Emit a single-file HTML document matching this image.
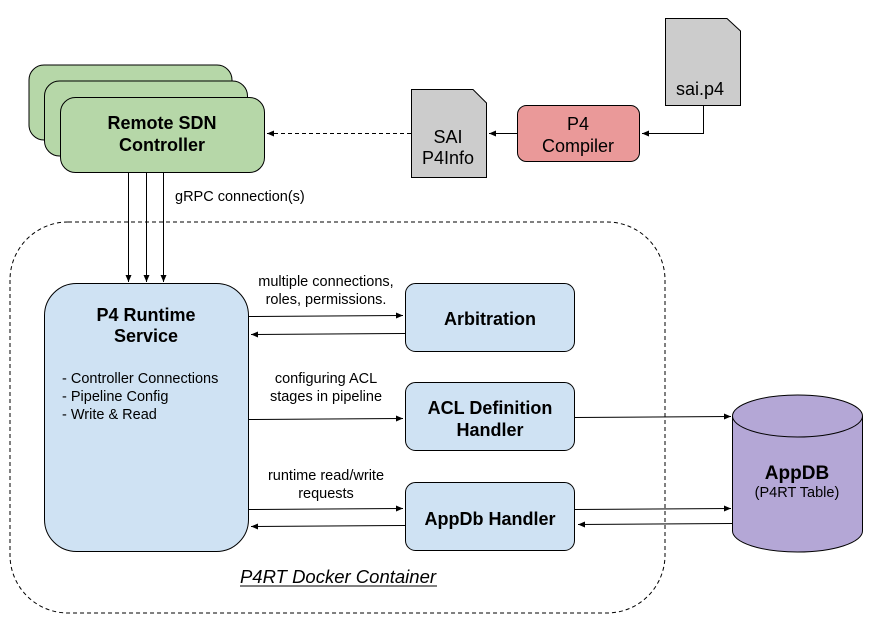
<!DOCTYPE html>
<html><head><meta charset="utf-8"><style>
html,body{margin:0;padding:0;background:#fff}
svg{display:block}
text{font-family:"Liberation Sans",Arial,sans-serif;fill:#000}
</style></head><body>
<svg width="876" height="626" viewBox="0 0 876 626" xmlns="http://www.w3.org/2000/svg">
<defs>
<marker id="a" markerWidth="8" markerHeight="8" refX="7" refY="4" orient="auto" markerUnits="userSpaceOnUse">
<path d="M0,1 L7,4 L0,7 z" fill="#000"/></marker>
</defs>
<rect x="10" y="222" width="655" height="391" rx="58" ry="58" fill="none" stroke="#000" stroke-dasharray="4,3" stroke-width="1"/>
<text x="338" y="583" font-size="18.5" font-style="italic" text-anchor="middle">P4RT Docker Container</text>
<line x1="240" y1="586" x2="437" y2="586" stroke="#000" stroke-width="1"/>

<rect x="29" y="65" width="203" height="75" rx="15" fill="#b6d7a8" stroke="#000" stroke-width="1"/>
<rect x="44.5" y="81" width="203" height="75" rx="15" fill="#b6d7a8" stroke="#000" stroke-width="1"/>
<rect x="60.5" y="97.5" width="204" height="75" rx="15" fill="#b6d7a8" stroke="#000" stroke-width="1"/>
<text x="162" y="129" font-size="18" font-weight="bold" text-anchor="middle">Remote SDN</text>
<text x="162" y="151" font-size="18" font-weight="bold" text-anchor="middle">Controller</text>

<path d="M411.5,89.5 H473 L486.5,103 V177.5 H411.5 Z" fill="#cccccc" stroke="#000"/>
<text x="448" y="143" font-size="18" text-anchor="middle">SAI</text>
<text x="448" y="164" font-size="18" text-anchor="middle">P4Info</text>
<path d="M665.5,18.5 H727 L740.5,31 V105.5 H665.5 Z" fill="#cccccc" stroke="#000"/>
<text x="700" y="95" font-size="18" text-anchor="middle">sai.p4</text>
<rect x="517.5" y="105.5" width="122" height="56" rx="9" fill="#ea9999" stroke="#000"/>
<text x="578" y="130" font-size="18" text-anchor="middle">P4</text>
<text x="578" y="152" font-size="18" text-anchor="middle">Compiler</text>

<polyline points="703.5,105 703.5,133.5 642,133.5" fill="none" stroke="#000" marker-end="url(#a)"/>
<line x1="517" y1="133.5" x2="489" y2="133.5" stroke="#000" marker-end="url(#a)"/>
<line x1="411" y1="133.5" x2="267" y2="133.5" stroke="#000" stroke-dasharray="4,3" marker-end="url(#a)"/>

<line x1="128.5" y1="173" x2="128.5" y2="282" stroke="#000" marker-end="url(#a)"/>
<line x1="146.5" y1="173" x2="146.5" y2="282" stroke="#000" marker-end="url(#a)"/>
<line x1="163.5" y1="173" x2="163.5" y2="282" stroke="#000" marker-end="url(#a)"/>
<text x="175" y="201" font-size="14.5">gRPC connection(s)</text>

<rect x="44.5" y="283.5" width="204" height="268" rx="32" fill="#cfe2f3" stroke="#000"/>
<text x="146" y="321" font-size="18" font-weight="bold" text-anchor="middle">P4 Runtime</text>
<text x="146" y="342" font-size="18" font-weight="bold" text-anchor="middle">Service</text>
<text x="62" y="383" font-size="14.5">- Controller Connections</text>
<text x="62" y="401" font-size="14.5">- Pipeline Config</text>
<text x="62" y="419" font-size="14.5">- Write &amp; Read</text>

<rect x="405.5" y="283.5" width="169" height="68" rx="10" fill="#cfe2f3" stroke="#000"/>
<text x="490" y="325" font-size="18" font-weight="bold" text-anchor="middle">Arbitration</text>
<rect x="405.5" y="382.5" width="169" height="68" rx="10" fill="#cfe2f3" stroke="#000"/>
<text x="490" y="414" font-size="18" font-weight="bold" text-anchor="middle">ACL Definition</text>
<text x="490" y="436" font-size="18" font-weight="bold" text-anchor="middle">Handler</text>
<rect x="405.5" y="482.5" width="169" height="68" rx="10" fill="#cfe2f3" stroke="#000"/>
<text x="490" y="525" font-size="18" font-weight="bold" text-anchor="middle">AppDb Handler</text>

<text x="326" y="286" font-size="14.5" text-anchor="middle">multiple connections,</text>
<text x="326" y="304" font-size="14.5" text-anchor="middle">roles, permissions.</text>
<text x="326" y="383" font-size="14.5" text-anchor="middle">configuring ACL</text>
<text x="326" y="401" font-size="14.5" text-anchor="middle">stages in pipeline</text>
<text x="326" y="480" font-size="14.5" text-anchor="middle">runtime read/write</text>
<text x="326" y="498" font-size="14.5" text-anchor="middle">requests</text>

<line x1="249" y1="316.5" x2="403" y2="315.5" stroke="#000" marker-end="url(#a)"/>
<line x1="405" y1="333.5" x2="251" y2="334.5" stroke="#000" marker-end="url(#a)"/>
<line x1="249" y1="419.5" x2="403" y2="418.5" stroke="#000" marker-end="url(#a)"/>
<line x1="249" y1="509.5" x2="403" y2="508.5" stroke="#000" marker-end="url(#a)"/>
<line x1="405" y1="525.5" x2="251" y2="526.5" stroke="#000" marker-end="url(#a)"/>

<path d="M732.5,416 V531 A65,21 0 0 0 862.5,531 V416" fill="#b4a7d6" stroke="#000"/>
<ellipse cx="797.5" cy="416" rx="65" ry="21" fill="#b4a7d6" stroke="#000"/>
<text x="797" y="479" font-size="19" font-weight="bold" text-anchor="middle">AppDB</text>
<text x="797" y="497" font-size="14.5" text-anchor="middle">(P4RT Table)</text>

<line x1="575" y1="417.5" x2="731" y2="416.5" stroke="#000" marker-end="url(#a)"/>
<line x1="575" y1="509.5" x2="731" y2="508.5" stroke="#000" marker-end="url(#a)"/>
<line x1="732" y1="523.5" x2="578" y2="524.5" stroke="#000" marker-end="url(#a)"/>
</svg>
</body></html>
